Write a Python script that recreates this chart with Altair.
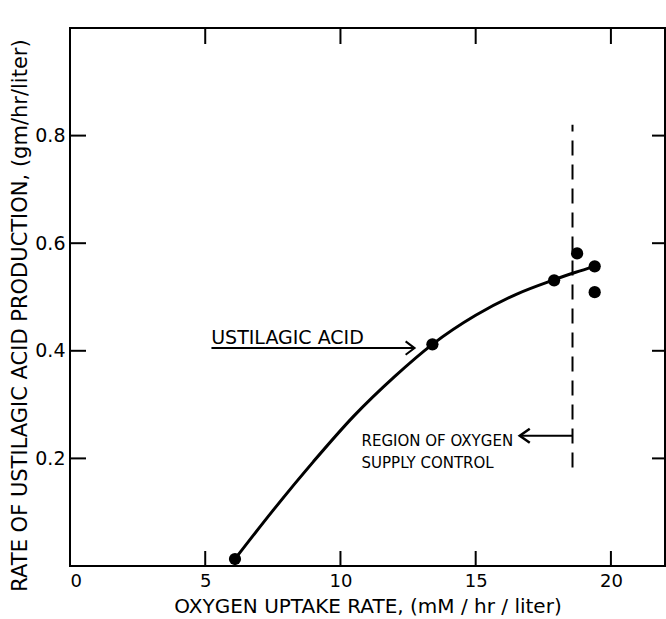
import altair as alt
import pandas as pd

# ---- data ----
pt_x = [6.1, 13.4, 17.9, 18.75, 19.4, 19.4]
pt_y = [0.013, 0.412, 0.531, 0.581, 0.557, 0.509]

curve_x = [6.1, 7.5, 9.0, 10.5, 12.0, 13.4, 15.0, 16.5, 17.9, 18.7, 19.4]
curve_y = [0.013, 0.103, 0.194, 0.279, 0.352, 0.412, 0.466, 0.505, 0.532, 0.546, 0.557]

x_label_values = [0, 5, 10, 15, 20]
x_tick_values = [5, 10, 15, 20]
y_tick_values = [0.2, 0.4, 0.6, 0.8]

control_x = [18.58]
control_y0 = [0.183]
control_y1 = [0.82]

acid_label = ["USTILAGIC ACID"]
acid_label_x = [5.22]
acid_label_y = [0.413]
acid_arrow_x0 = [5.23]
acid_arrow_x1 = [12.74]
acid_arrow_y = [0.405]

region_lines = ["REGION OF OXYGEN", "SUPPLY CONTROL"]
region_x = [10.78, 10.78]
region_y = [0.2235, 0.1825]
region_arrow_x0 = [18.58]
region_arrow_x1 = [16.63]
region_arrow_y = [0.242]

x_title = "OXYGEN UPTAKE RATE, (mM / hr / liter)"
y_title = "RATE OF USTILAGIC ACID PRODUCTION, (gm/hr/liter)"

FONT = "DejaVu Sans"
W, H = 595, 538

xs = alt.Scale(domain=[0, 22], nice=False, zero=False)
ys = alt.Scale(domain=[0, 1.0], nice=False, zero=False)

ax_x = alt.Axis(values=x_label_values, title=x_title, labelFontSize=18, labelPadding=6,
                titleFontSize=20, titleY=40, titleBaseline="middle")
ax_y = alt.Axis(values=y_tick_values, format=".1f", title=y_title, labelFontSize=19,
                labelPadding=5, titleFontSize=21, titleX=-50, titleY=287,
                titleBaseline="middle")


def X(field):
    return alt.X(field, scale=xs, axis=ax_x)


def Y(field):
    return alt.Y(field, scale=ys, axis=ax_y)


df_pts = pd.DataFrame({"x": pt_x, "y": pt_y})
df_curve = pd.DataFrame({"x": curve_x, "y": curve_y})
df_xt = pd.DataFrame({"t": x_tick_values})
df_yt = pd.DataFrame({"t": y_tick_values})

points = alt.Chart(df_pts).mark_circle(size=150, color="black", opacity=1).encode(
    x=X("x:Q"), y=Y("y:Q"))

curve = alt.Chart(df_curve).mark_line(color="black", strokeWidth=3, interpolate="monotone").encode(
    x=X("x:Q"), y=Y("y:Q"))

tick_style = dict(color="black", strokeWidth=2)
bottom_ticks = alt.Chart(df_xt).mark_rule(**tick_style).encode(
    x=X("t:Q"), y=alt.value(H), y2=alt.value(H - 15))
top_ticks = alt.Chart(df_xt).mark_rule(**tick_style).encode(
    x=X("t:Q"), y=alt.value(0), y2=alt.value(16))
left_ticks = alt.Chart(df_yt).mark_rule(**tick_style).encode(
    y=Y("t:Q"), x=alt.value(0), x2=alt.value(16))
right_ticks = alt.Chart(df_yt).mark_rule(**tick_style).encode(
    y=Y("t:Q"), x=alt.value(W), x2=alt.value(W - 13))

df_ctrl = pd.DataFrame({"x": control_x, "y0": control_y0, "y1": control_y1})
control = alt.Chart(df_ctrl).mark_rule(color="black", strokeWidth=2, strokeDash=[15, 9]).encode(
    x=X("x:Q"), y=Y("y0:Q"), y2="y1:Q")

df_acid_arrow = pd.DataFrame({"x0": acid_arrow_x0, "x1": acid_arrow_x1, "y": acid_arrow_y})
acid_line = alt.Chart(df_acid_arrow).mark_rule(color="black", strokeWidth=2).encode(
    x=X("x0:Q"), x2="x1:Q", y=Y("y:Q"))
acid_head = alt.Chart(df_acid_arrow).mark_point(
    shape="M -1 -0.75 L 0 0 L -1 0.75", filled=False, color="black",
    strokeWidth=2, size=320, opacity=1).encode(x=X("x1:Q"), y=Y("y:Q"))

df_region_arrow = pd.DataFrame({"x0": region_arrow_x0, "x1": region_arrow_x1, "y": region_arrow_y})
region_line = alt.Chart(df_region_arrow).mark_rule(color="black", strokeWidth=2).encode(
    x=X("x0:Q"), x2="x1:Q", y=Y("y:Q"))
region_head = alt.Chart(df_region_arrow).mark_point(
    shape="M 1 -0.7 L 0 0 L 1 0.7", filled=False, color="black",
    strokeWidth=2.5, size=400, opacity=1).encode(x=X("x1:Q"), y=Y("y:Q"))

df_acid_text = pd.DataFrame({"x": acid_label_x, "y": acid_label_y, "t": acid_label})
acid_text = alt.Chart(df_acid_text).mark_text(
    align="left", baseline="alphabetic", font=FONT, fontSize=19, color="black").encode(
    x=X("x:Q"), y=Y("y:Q"), text="t:N")

df_region_text = pd.DataFrame({"x": region_x, "y": region_y, "t": region_lines})
region_text = alt.Chart(df_region_text).mark_text(
    align="left", baseline="alphabetic", font=FONT, fontSize=15, color="black").encode(
    x=X("x:Q"), y=Y("y:Q"), text="t:N")

chart = alt.layer(
    points, curve, bottom_ticks, top_ticks, left_ticks, right_ticks,
    control, acid_line, acid_head, region_line, region_head, acid_text, region_text,
).properties(
    width=W, height=H,
    padding={"left": 70, "top": 28, "right": 1, "bottom": 53},
    autosize=alt.AutoSizeParams(type="none"),
    background="white",
).configure_view(
    stroke="black", strokeWidth=2,
).configure_axis(
    grid=False, domain=False, ticks=False, tickSize=0,
    labelFont=FONT, titleFont=FONT, labelColor="black", titleColor="black",
    titleFontWeight="normal",
)

chart.save("out.html", embed_options={"renderer": "svg", "actions": False})
